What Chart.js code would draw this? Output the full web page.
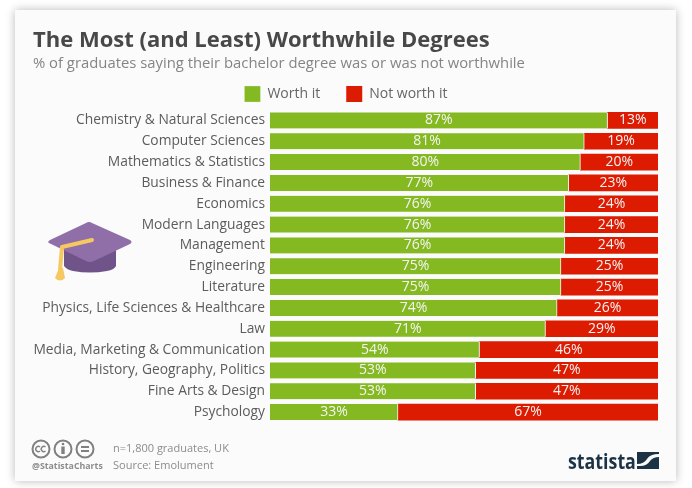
<!DOCTYPE html>
<html>
<head>
<meta charset="utf-8">
<script src="https://cdn.jsdelivr.net/npm/chart.js@4"></script>
<style>
  html, body { margin: 0; padding: 0; background: #fff; }
  body { width: 692px; height: 488px; position: relative; overflow: hidden; font-family: "Open Sans", sans-serif; }
  #card { position: absolute; left: 15px; top: 10px; width: 661px; height: 471px; background: #fbfbfc; box-shadow: 0 0 9px rgba(0,0,0,.28); }
  #chart { position: absolute; left: 0; top: 0; }
  .txt { position: absolute; white-space: nowrap; }
  svg { position: absolute; }
</style>
</head>
<body>
<div id="card"></div>
<canvas id="chart" width="692" height="488"></canvas>

<div class="txt" style="left:33px;top:23px;font-size:22px;font-weight:700;color:#484848">The Most (and Least) Worthwhile Degrees</div>
<div class="txt" style="left:33px;top:51.5px;font-size:14.83px;color:#858585">% of graduates saying their bachelor degree was or was not worthwhile</div>
<div class="txt" style="left:113px;top:440px;font-size:11px;color:#8c8c8c">n=1,800 graduates, UK</div>
<div class="txt" style="left:113px;top:457px;font-size:11px;color:#8c8c8c">Source: Emolument</div>
<div class="txt" style="left:32px;top:460px;font-size:8.8px;font-weight:700;color:#8c8c8c">@StatistaCharts</div>
<div class="txt" style="left:568px;top:445px;font-size:22px;font-weight:700;color:#1b3345;transform:scaleX(.81);transform-origin:left">statista</div>

<!-- graduation cap -->
<svg style="left:45px;top:218px" width="92" height="70" viewBox="0 0 92 70">
  <path d="M19 28 V48 Q22 52 28 53 Q45 56 62 53 Q69 52 71 48 V28 Z" fill="#705489"/>
  <path d="M4 25 Q2 24 5 22 L41 5 Q44 3 47 5 L85 22 Q88 24 85 26 L49 43 Q45 45 41 43 Z" fill="#906fa8"/>
  <path d="M17 29 L47 22" stroke="#f5c862" stroke-width="4" stroke-linecap="round" fill="none"/>
  <path d="M17 29 L15 52" stroke="#f5c862" stroke-width="4" fill="none"/>
  <path d="M14 50 L18 50 L20 60 Q15 65 10 60 Z" fill="#f5c862"/>
</svg>

<!-- cc icons -->
<svg style="left:30px;top:438px" width="70" height="22" viewBox="0 0 70 22" fill="none" stroke="#808080" stroke-width="2">
  <circle cx="11" cy="11" r="8.5"/><circle cx="33" cy="11" r="8.5"/><circle cx="55" cy="11" r="8.5"/>
  <path d="M10 9 a2.6 2.6 0 1 0 0 4 M15.5 9 a2.6 2.6 0 1 0 0 4" stroke-width="1.4"/>
  <path d="M33 8.5 V16" stroke-width="3.4"/><circle cx="33" cy="6" r="1.3" fill="#808080" stroke="none"/>
  <path d="M51 9 H59 M51 13 H59" stroke-width="1.8"/>
</svg>

<!-- statista mark -->
<svg style="left:637px;top:452px" width="22" height="17" viewBox="0 0 22 17">
  <rect width="22" height="17" fill="#1b3345"/>
  <path d="M0 12 Q7 12 10 7 Q13 2 22 2 V5 Q16 5 13 9 Q10 14 3 14 H0 Z" fill="#fbfbfc"/>
</svg>

<script>
const categories = [
  "Chemistry & Natural Sciences",
  "Computer Sciences",
  "Mathematics & Statistics",
  "Business & Finance",
  "Economics",
  "Modern Languages",
  "Management",
  "Engineering",
  "Literature",
  "Physics, Life Sciences & Healthcare",
  "Law",
  "Media, Marketing & Communication",
  "History, Geography, Politics",
  "Fine Arts & Design",
  "Psychology",
];
const worthIt = [87, 81, 80, 77, 76, 76, 76, 75, 75, 74, 71, 54, 53, 53, 33];
const notWorthIt = [13, 19, 20, 23, 24, 24, 24, 25, 25, 26, 29, 46, 47, 47, 67];

// percent labels in the middle of each segment
const barLabels = {
  id: "barLabels",
  afterDatasetsDraw(chart) {
    const ctx = chart.ctx;
    ctx.save();
    ctx.font = '14px "Open Sans"';
    ctx.fillStyle = "#f4f4f4";
    ctx.textAlign = "center";
    ctx.textBaseline = "middle";
    chart.data.datasets.forEach((ds, i) => {
      chart.getDatasetMeta(i).data.forEach((bar, j) => {
        const c = bar.getCenterPoint();
        ctx.fillText(ds.data[j] + "%", c.x, c.y);
      });
    });
    ctx.restore();
  },
};

new Chart(document.getElementById("chart"), {
  type: "bar",
  data: {
    labels: categories,
    datasets: [
      { label: "Worth it", data: worthIt, backgroundColor: "#84b921", borderColor: "#fbfbfc", borderWidth: { right: 1 }, barThickness: 16 },
      { label: "Not worth it", data: notWorthIt, backgroundColor: "#dc1b00", barThickness: 16 },
    ],
  },
  options: {
    indexAxis: "y",
    responsive: false,
    animation: false,
    layout: { padding: { top: 60, left: 34, right: 34, bottom: 65.5 } },
    plugins: {
      tooltip: { enabled: false },
      legend: {
        position: "top",
        maxHeight: 50,
        labels: {
          boxWidth: 16,
          boxHeight: 16,
          padding: 26,
          color: "#666",
          font: { family: "Open Sans", size: 14 },
        },
      },
    },
    scales: {
      x: { stacked: true, min: 0, max: 100, display: false },
      y: {
        stacked: true,
        grid: { display: false, drawTicks: false },
        border: { display: false },
        ticks: {
          color: "#5c5c5c",
          padding: 5,
          autoSkip: false,
          font: { family: "Open Sans", size: 13.8 },
        },
        afterFit(scale) { scale.width = 236; },
      },
    },
  },
  plugins: [barLabels],
});
</script>
</body>
</html>
